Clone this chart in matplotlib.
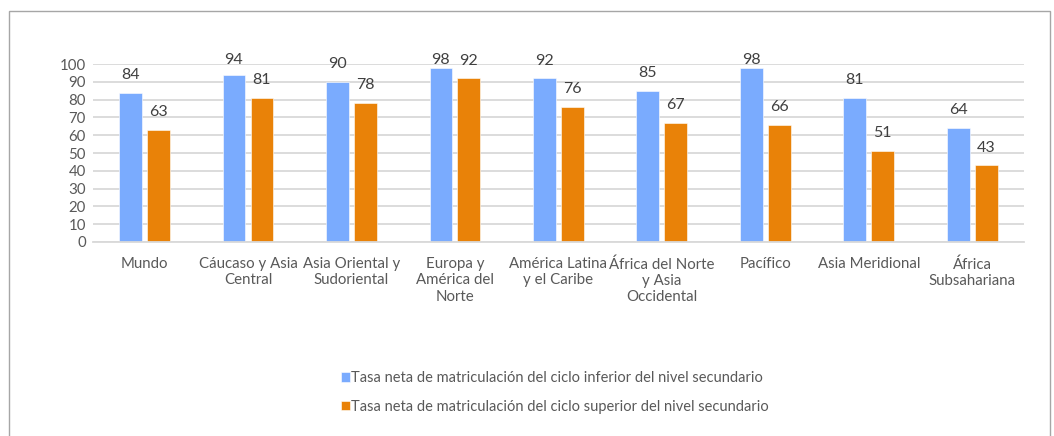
import matplotlib.pyplot as plt
import numpy as np
from matplotlib.patches import Rectangle

regions = ['Mundo', 'Cáucaso y Asia\nCentral', 'Asia Oriental y\nSudoriental',
           'Europa y\nAmérica del\nNorte', 'América Latina\ny el Caribe',
           'África del Norte\ny Asia\nOccidental', 'Pacífico', 'Asia Meridional',
           'África\nSubsahariana']
lower = [84, 94, 90, 98, 92, 85, 98, 81, 64]
upper = [63, 81, 78, 92, 76, 67, 66, 51, 43]
series_names = ['Tasa neta de matriculación del ciclo inferior del nivel secundario',
                'Tasa neta de matriculación del ciclo superior del nivel secundario']

blue = '#7aabfe'
orange = '#e98208'
grid_c = '#d9d9d9'
txt_c = '#595959'

plt.rcParams['font.family'] = ['Lato', 'DejaVu Sans']

fig = plt.figure(figsize=(10.54, 4.36), dpi=100)
ax = fig.add_axes([0.088, 0.445, 0.8835, 0.408])

x = np.arange(len(regions))
w = 0.22
off = 0.135
b1 = ax.bar(x - off, lower, w, color=blue, edgecolor='white', linewidth=0.4)
b2 = ax.bar(x + off, upper, w, color=orange, edgecolor='white', linewidth=0.4)

# labels float above the bars, but never past the top of the plot
for bars, vals in [(b1, lower), (b2, upper)]:
    for r, v in zip(bars, vals):
        ax.text(r.get_x() + r.get_width() / 2, min(v + 10, 102.2), str(v),
                ha='center', va='center', fontsize=11.5, color='#404040')

ax.set_xlim(-0.5, len(regions) - 0.5)
ax.set_ylim(0, 100)
ax.set_yticks(range(0, 101, 10))
ax.yaxis.grid(True, color=grid_c, linewidth=1.3)
ax.set_axisbelow(True)
for s in ['top', 'right', 'left']:
    ax.spines[s].set_visible(False)
ax.spines['bottom'].set_color(grid_c)
ax.spines['bottom'].set_linewidth(1.3)
ax.set_xticks(x)
ax.set_xticklabels(regions, linespacing=1.2)
ax.tick_params(axis='both', length=0, labelsize=10.8, colors=txt_c)
ax.tick_params(axis='x', pad=11)
ax.tick_params(axis='y', pad=5)

fig.legend([b1, b2], series_names, loc='upper left', bbox_to_anchor=(0.318, 0.162),
           frameon=False, fontsize=10.5, labelcolor=txt_c, handlelength=0.6,
           handleheight=0.6, handletextpad=0.1, labelspacing=1.0, borderaxespad=0)

fig.patches.append(Rectangle((9 / 1054, -0.01), 1041 / 1054, 1 - 11 / 436 + 0.01,
                             transform=fig.transFigure, fill=False,
                             edgecolor='#a6a6a6', linewidth=1))

fig.savefig('out.png', dpi=100)
